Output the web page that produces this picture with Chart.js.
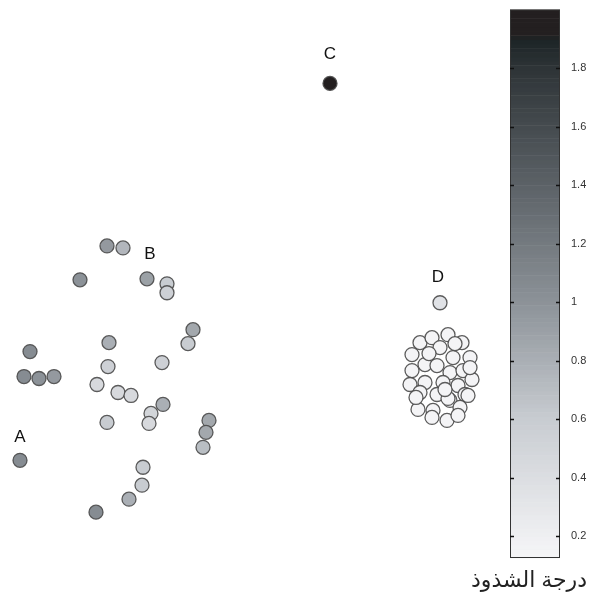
<!DOCTYPE html>
<html>
<head>
<meta charset="utf-8">
<script src="https://cdn.jsdelivr.net/npm/chart.js@4.4.1/dist/chart.umd.min.js"></script>
<style>
  html, body { margin: 0; padding: 0; background: #fff; }
  #wrap { width: 594px; height: 599px; }
</style>
</head>
<body>
<div id="wrap"><canvas id="c"></canvas></div>
<script>
// scattered points (left group)
const groupX = [107, 123, 80, 147, 167, 167, 193, 188, 30, 109, 108, 162, 24, 39, 54, 97, 118, 131, 163, 151, 149, 107, 209, 206, 203, 20, 143, 142, 129, 96];
const groupY = [245, 247, 279, 278, 283, 292, 329, 343, 351, 342, 366, 362, 376, 378, 376, 384, 392, 395, 404, 413, 423, 422, 420, 432, 447, 460, 467, 485, 499, 512];
const groupScore = [0.95, 0.75, 1.0, 0.9, 0.6, 0.55, 0.85, 0.6, 1.05, 0.8, 0.55, 0.55, 1.05, 1.0, 0.95, 0.45, 0.45, 0.45, 0.8, 0.5, 0.45, 0.6, 0.85, 0.85, 0.7, 1.05, 0.6, 0.6, 0.8, 1.05];

// dense cluster
const clusterX = [420, 432, 448, 462, 412, 440, 453, 470, 425, 437, 412, 450, 463, 410, 425, 443, 458, 472, 420, 437, 450, 465, 418, 433, 448, 460, 432, 447, 458, 429, 455, 468, 416, 445, 470];
const clusterY = [342, 337, 334, 342, 354, 347, 357, 357, 364, 365, 370, 372, 370, 384, 382, 382, 385, 379, 392, 394, 400, 394, 409, 410, 398, 407, 417, 420, 415, 353, 343, 395, 397, 389, 367];
const clusterScore = 0.15;

// single outliers
const outX = [330, 440];
const outY = [82, 302];
const outScore = [1.97, 0.35];

// point labels
const labelText = ['A', 'B', 'C', 'D'];
const labelX = [20, 150, 330, 438];
const labelY = [437, 253, 53, 276];

// colour bar
const cbMin = 0.125, cbMax = 2.0;
const cbTicks = [0.2, 0.4, 0.6, 0.8, 1, 1.2, 1.4, 1.6, 1.8];
const cbTitle = 'درجة الشذوذ';

// grey colormap with a slight blue tint
const cmapStops = [
  [0.125, [246, 246, 248]],
  [0.6, [200, 204, 209]],
  [1.0, [140, 146, 152]],
  [1.4, [92, 98, 103]],
  [1.8, [46, 52, 55]],
  [1.9, [28, 36, 38]],
  [1.91, [35, 31, 32]],
  [2.0, [35, 31, 32]]
];

function cmap(v) {
  if (v <= cmapStops[0][0]) return 'rgb(' + cmapStops[0][1].join(',') + ')';
  for (let i = 1; i < cmapStops.length; i++) {
    const [v1, c1] = cmapStops[i];
    const [v0, c0] = cmapStops[i - 1];
    if (v <= v1) {
      const t = (v - v0) / (v1 - v0);
      const c = c0.map((a, k) => Math.round(a + (c1[k] - a) * t));
      return 'rgb(' + c.join(',') + ')';
    }
  }
  return 'rgb(' + cmapStops[cmapStops.length - 1][1].join(',') + ')';
}

const pts = [];
const cols = [];
groupX.forEach((x, i) => { pts.push({x: x, y: groupY[i]}); cols.push(cmap(groupScore[i])); });
clusterX.forEach((x, i) => { pts.push({x: x, y: clusterY[i]}); cols.push(cmap(clusterScore)); });
outX.forEach((x, i) => { pts.push({x: x, y: outY[i]}); cols.push(cmap(outScore[i])); });

const colorBar = {
  id: 'colorBar',
  afterDraw(chart) {
    const ctx = chart.ctx;
    const cb = chart.scales.cb;
    const right = cb.left, left = cb.left - 50;
    const top = cb.getPixelForValue(cbMax), bottom = cb.getPixelForValue(cbMin);
    const n = 128;
    for (let i = 0; i < n; i++) {
      const v0 = cbMin + (cbMax - cbMin) * i / n;
      const v1 = cbMin + (cbMax - cbMin) * (i + 1) / n;
      const y0 = cb.getPixelForValue(v0), y1 = cb.getPixelForValue(v1);
      ctx.fillStyle = cmap((v0 + v1) / 2);
      ctx.fillRect(left, y1, right - left, y0 - y1 + 0.5);
    }
    ctx.strokeStyle = '#333';
    ctx.lineWidth = 1;
    ctx.strokeRect(left + 0.5, top + 0.5, right - left - 1, bottom - top - 1);
    ctx.strokeStyle = '#111';
    ctx.lineWidth = 1.5;
    cbTicks.forEach(v => {
      const y = Math.round(cb.getPixelForValue(v)) + 0.5;
      ctx.beginPath();
      ctx.moveTo(left, y); ctx.lineTo(left + 4, y);
      ctx.moveTo(right - 4, y); ctx.lineTo(right, y);
      ctx.stroke();
    });
    ctx.fillStyle = '#222';
    ctx.font = '22px "Noto Sans", "DejaVu Sans", sans-serif';
    ctx.textAlign = 'center';
    ctx.textBaseline = 'middle';
    ctx.direction = 'rtl';
    ctx.fillText(cbTitle, 529, bottom + 23);

    // point labels
    const xs = chart.scales.x, ys = chart.scales.y;
    ctx.direction = 'ltr';
    ctx.fillStyle = '#111';
    ctx.font = '17px "Liberation Sans", Arial, sans-serif';
    labelText.forEach((t, i) => {
      ctx.fillText(t, xs.getPixelForValue(labelX[i]), ys.getPixelForValue(labelY[i]));
    });
  }
};

new Chart('c', {
  type: 'scatter',
  data: {
    datasets: [{
      data: pts,
      backgroundColor: cols,
      borderColor: 'rgba(75,75,75,0.9)',
      borderWidth: 1.3,
      pointRadius: 7,
      pointHoverRadius: 7
    }]
  },
  options: {
    responsive: true,
    maintainAspectRatio: false,
    animation: false,
    layout: {autoPadding: false, padding: {top: 8, bottom: 41, left: 0, right: 0}},
    plugins: {legend: {display: false}, tooltip: {enabled: false}},
    scales: {
      x: {type: 'linear', min: 0, max: 560, display: false},
      y: {type: 'linear', min: 8, max: 558, reverse: true, display: false},
      cb: {
        type: 'linear',
        position: 'right',
        min: cbMin,
        max: cbMax,
        grid: {display: false},
        border: {display: false},
        afterBuildTicks: s => { s.ticks = cbTicks.map(v => ({value: v})); },
        afterFit: s => { s.width = 34; },
        ticks: {
          padding: 3,
          color: '#333',
          font: {family: '"Liberation Sans", Arial, sans-serif', size: 11},
          callback: v => String(v)
        }
      }
    }
  },
  plugins: [colorBar]
});
</script>
</body>
</html>
